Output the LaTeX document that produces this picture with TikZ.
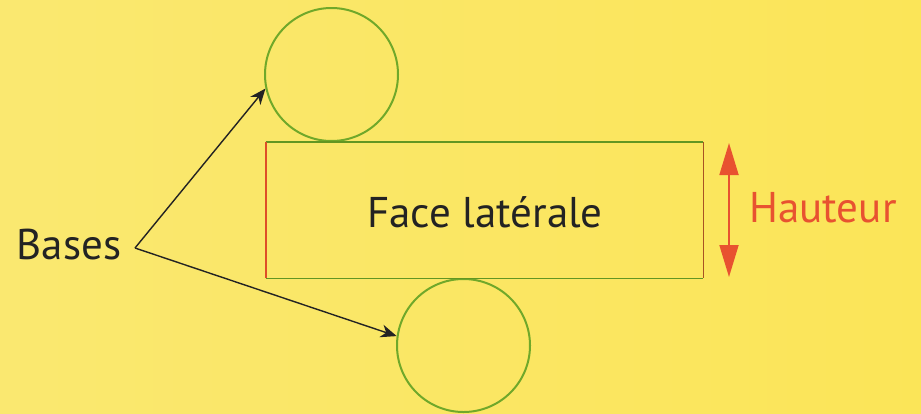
\documentclass[tikz,border=0pt]{standalone}
\usepackage{fontspec}
\setmainfont{PT Sans}
\usetikzlibrary{arrows.meta}
\definecolor{paperL}{RGB}{250,232,112}
\definecolor{paperR}{RGB}{251,229,88}
\definecolor{netgreen}{RGB}{112,168,42}
\definecolor{edgegreen}{RGB}{98,150,34}
\definecolor{edgered}{RGB}{222,78,40}
\definecolor{edgebrown}{RGB}{168,82,34}
\definecolor{hred}{RGB}{232,82,48}
\definecolor{ink}{RGB}{35,35,35}
\tikzset{
  base/.style={circle, draw=netgreen, line width=1pt, inner sep=0pt, minimum size=66.5pt},
  lbl/.style={font=\fontsize{21.5}{26}\selectfont, inner sep=0pt},
  pointer/.style={draw=ink, line width=0.7pt, -{Stealth[length=8pt, width=6.5pt, inset=2.5pt]}},
  measure/.style={draw=hred, line width=0.9pt, {Triangle[length=16pt, width=9.5pt]}-{Triangle[length=16pt, width=9.5pt]}}
}
\begin{document}
\begin{tikzpicture}[x=0.5pt, y=-0.5pt]
  % paper
  \shade[left color=paperL, right color=paperR] (0,0) rectangle (921,413);
  \useasboundingbox (0,0) rectangle (921,413);

  % the two bases
  \node[base] (top) at (331.5,74.5) {};
  \node[base] (bot) at (463.5,345.5) {};

  % lateral face
  \node[minimum width=218.5pt, minimum height=68pt, inner sep=0pt] (face) at (484.5,210) {};
  \draw[edgegreen, line width=0.9pt] (face.north west) -- (face.north east);
  \draw[edgegreen, line width=0.9pt] (face.south west) -- (face.south east);
  \draw[edgered, line width=0.9pt] (face.north west) -- (face.south west);
  \draw[edgebrown, line width=0.9pt] (face.north east) -- (face.south east);
  \node[lbl, text=ink] (facelbl) at (485,212) {Face latérale};

  % bases label and pointers
  \node[lbl, text=ink] (bases) at (69,245) {Bases};
  \coordinate (fork) at (135,248);
  \draw[pointer] (fork) -- (top.192.7);
  \draw[pointer] (fork) -- (bot.172.7);

  % height
  \coordinate (htop) at (729,143);
  \coordinate (hbot) at (729,277);
  \draw[measure] (htop) -- (hbot);
  \node[lbl, text=hred] (hauteur) at (823,208) {Hauteur};
\end{tikzpicture}
\end{document}
